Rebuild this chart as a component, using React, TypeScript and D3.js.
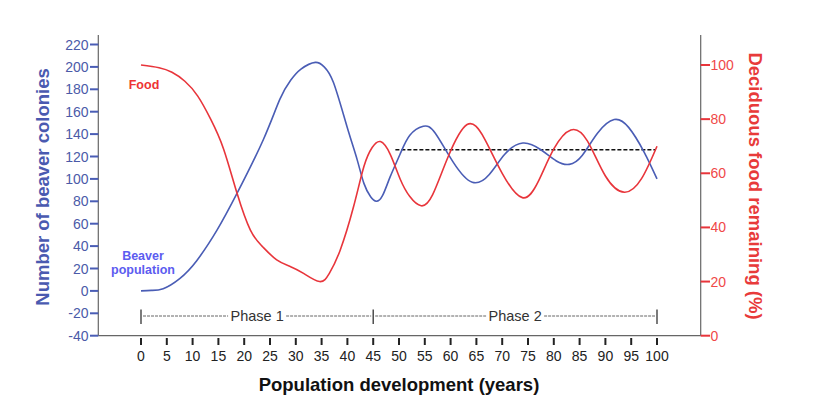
import React from "react";
import * as d3 from "d3";

const beaverYears = [0, 2, 4.3, 7.5, 10.8, 14.7, 18.6, 23.7, 26.9, 29, 31, 33.8, 35.5, 37.3, 39.9, 41.9, 43.2, 44.5, 45.6, 46.8, 48.3, 50.2, 52.1, 54.7, 57, 60.5, 64.2, 67.5, 70.5, 74, 77.5, 80.5, 83, 85.5, 88.5, 91.7, 94.5, 97.5, 100];
const beaverValues = [0, 0.5, 2, 11, 27, 54, 87, 135, 171, 188, 198, 204, 200, 186, 147, 117, 96, 84, 80, 85, 102, 122, 139, 147, 141, 115, 97, 104, 122, 132, 126, 116, 113, 121, 141, 153, 146, 124, 100];

const foodYears = [0, 3.5, 6, 8.5, 11, 13.5, 16, 18.6, 21.2, 23.5, 26.3, 29, 31.5, 34.6, 36.5, 38.6, 41.2, 43.2, 44.8, 46.4, 48.3, 50.2, 52.1, 54.3, 56.5, 59.5, 63.2, 66.5, 70, 73.9, 77, 80, 83.3, 86.5, 90, 93.7, 97, 100];
const foodValues = [100, 99, 97.3, 94, 88.5, 80, 69, 52.7, 39, 33, 28, 25.5, 23, 20, 23, 31.6, 47.7, 62.5, 69.5, 71.7, 67, 58, 51.4, 48, 52, 66, 78, 73, 60, 51, 57, 69, 76, 72, 59, 53, 58, 70];

const xTicks = d3.range(0, 101, 5);
const leftTicks = d3.range(-40, 221, 20);
const rightTicks = d3.range(0, 101, 20);

const meanLine = { from: 49.3, to: 99.8, value: 126 };
const phases = [
  { label: "Phase 1", start: 0, end: 45 },
  { label: "Phase 2", start: 45, end: 100 },
];

const FONT = "'Liberation Sans', Arial, Helvetica, sans-serif";
const BLUE = "#4a5db5";
const RED = "#e8353b";

export default function App() {
  const x = d3.scaleLinear().domain([0, 100]).range([141, 657]);
  const yL = d3.scaleLinear().domain([-40, 220]).range([335.7, 44.5]);
  const yR = d3.scaleLinear().domain([0, 100]).range([335.7, 65]);

  const beaverData = beaverYears.map((t, i) => [t, beaverValues[i]] as [number, number]);
  const foodData = foodYears.map((t, i) => [t, foodValues[i]] as [number, number]);

  const beaverLine = d3
    .line<[number, number]>()
    .x((d) => x(d[0]))
    .y((d) => yL(d[1]))
    .curve(d3.curveNatural);
  const foodLine = d3
    .line<[number, number]>()
    .x((d) => x(d[0]))
    .y((d) => yR(d[1]))
    .curve(d3.curveNatural);

  const axisLeftX = 98.3;
  const axisRightX = 700.7;
  const axisBottomY = 335.7;
  const phaseY = 316;

  return (
    <svg
      width={822}
      height={399}
      style={{ position: "absolute", left: 0, top: 0, background: "#fff" }}
      fontFamily={FONT}
    >
      {/* axes lines */}
      <line x1={axisLeftX} x2={axisLeftX} y1={35} y2={axisBottomY} stroke="#666" strokeWidth={1.2} />
      <line x1={axisRightX} x2={axisRightX} y1={35} y2={axisBottomY} stroke="#666" strokeWidth={1.2} />
      <line x1={axisLeftX} x2={axisRightX} y1={axisBottomY} y2={axisBottomY} stroke="#666" strokeWidth={1.2} />

      {/* left ticks */}
      {leftTicks.map((t) => (
        <g key={"l" + t}>
          <line x1={90} x2={axisLeftX} y1={yL(t)} y2={yL(t)} stroke={BLUE} strokeWidth={2} />
          <text x={88.5} y={yL(t)} dy="0.36em" textAnchor="end" fontSize={14} fill="#4b5aa8">
            {t}
          </text>
        </g>
      ))}

      {/* right ticks */}
      {rightTicks.map((t) => (
        <g key={"r" + t}>
          <line x1={axisRightX} x2={710} y1={yR(t)} y2={yR(t)} stroke={RED} strokeWidth={2} />
          <text x={710.5} y={yR(t)} dy="0.36em" textAnchor="start" fontSize={14} fill="#f04848">
            {t}
          </text>
        </g>
      ))}

      {/* bottom ticks */}
      {xTicks.map((t) => (
        <g key={"x" + t}>
          <line x1={x(t)} x2={x(t)} y1={338} y2={345} stroke="#222" strokeWidth={2} />
          <text x={x(t)} y={356} dy="0.36em" textAnchor="middle" fontSize={14} fill="#222">
            {t}
          </text>
        </g>
      ))}

      {/* axis titles */}
      <text x={399} y={391} textAnchor="middle" fontSize={18.5} fontWeight="bold" fill="#111">
        Population development (years)
      </text>
      <text
        transform={`translate(49,187) rotate(-90)`}
        textAnchor="middle"
        fontSize={18.5}
        fontWeight="bold"
        fill="#4a5ab0"
      >
        Number of beaver colonies
      </text>
      <text
        transform={`translate(749,186) rotate(90)`}
        textAnchor="middle"
        fontSize={18.5}
        fontWeight="bold"
        fill="#e83a3a"
      >
        Deciduous food remaining (%)
      </text>

      {/* phases */}
      {phases.map((p) => {
        const x0 = x(p.start);
        const x1 = x(p.end);
        const mid = (x0 + x1) / 2;
        const half = 29;
        return (
          <g key={p.label}>
            <line x1={x0 + 2} x2={mid - half} y1={phaseY} y2={phaseY} stroke="#666" strokeWidth={1} strokeDasharray="3,1" />
            <line x1={mid + half} x2={x1 - 2} y1={phaseY} y2={phaseY} stroke="#666" strokeWidth={1} strokeDasharray="3,1" />
            <text x={mid} y={phaseY} dy="0.36em" textAnchor="middle" fontSize={14.5} fill="#333">
              {p.label}
            </text>
          </g>
        );
      })}
      {[0, 45, 100].map((t) => (
        <line key={"pt" + t} x1={x(t)} x2={x(t)} y1={309.5} y2={324} stroke="#333" strokeWidth={1.3} />
      ))}

      {/* mean dashed line */}
      <line
        x1={x(meanLine.from)}
        x2={x(meanLine.to)}
        y1={yL(meanLine.value)}
        y2={yL(meanLine.value)}
        stroke="#111"
        strokeWidth={1.5}
        strokeDasharray="4,2"
      />

      {/* curves */}
      <path d={beaverLine(beaverData) || ""} fill="none" stroke={BLUE} strokeWidth={1.6} />
      <path d={foodLine(foodData) || ""} fill="none" stroke={RED} strokeWidth={1.6} />

      {/* labels */}
      <text x={144} y={84} dy="0.36em" textAnchor="middle" fontSize={12.5} fontWeight="bold" fill="#ee3333">
        Food
      </text>
      <text x={143} y={255} dy="0.36em" textAnchor="middle" fontSize={12.5} fontWeight="bold" fill="#5c5cf0">
        Beaver
      </text>
      <text x={143} y={269} dy="0.36em" textAnchor="middle" fontSize={12.5} fontWeight="bold" fill="#5c5cf0">
        population
      </text>
    </svg>
  );
}
